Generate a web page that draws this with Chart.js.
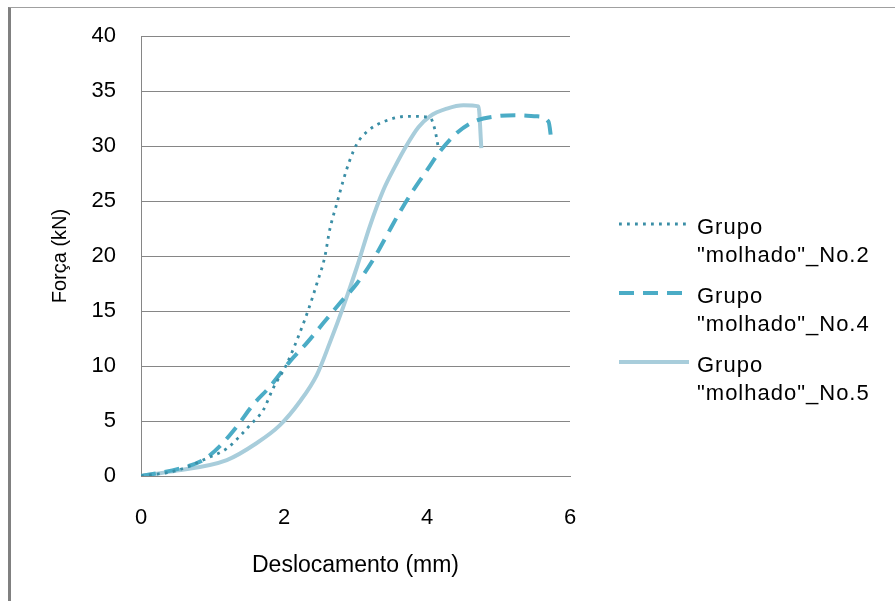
<!DOCTYPE html>
<html>
<head>
    <title>Força x Deslocamento</title>
    <script src="https://cdn.jsdelivr.net/npm/chart.js"></script>
    <style>
        body {
            margin: 0;
            background: #fff;
            font-family: "Liberation Sans", Arial, sans-serif;
            overflow: hidden;
        }

        #frame {
            position: absolute;
            left: 8px;
            top: 7px;
            width: 900px;
            height: 600px;
            border-left: 3px solid #808080;
            border-top: 1px solid #a0a0a0;
        }

        #wrap {
            position: absolute;
            left: 0;
            top: 0;
            width: 895px;
            height: 601px;
        }

        .leg {
            position: absolute;
            left: 619px;
            font-size: 22px;
            line-height: 28px;
            letter-spacing: 1px;
            color: #000;
        }

        .leg svg {
            position: absolute;
            left: 0;
            top: 5px;
        }

        .leg span {
            display: block;
            margin-left: 78px;
            white-space: nowrap;
        }
    </style>
</head>
<body>
    <div id="frame"></div>
    <div id="wrap">
        <canvas id="forceChart"></canvas>
    </div>
    <div id="legend"></div>

    <script>
        // Grupo "molhado" No.2
        const no2X = [0, 0.5, 0.92, 1.2, 1.38, 1.52, 1.71, 1.85, 2.04, 2.22, 2.34, 2.46, 2.57, 2.64, 2.74, 2.83, 2.92, 3.02, 3.16, 3.39, 3.72, 4.04, 4.11, 4.16];
        const no2Y = [0, 0.5, 1.6, 2.5, 3.6, 4.6, 6.0, 8.0, 10.2, 13.0, 15.1, 17.5, 19.9, 22.4, 24.8, 26.9, 28.7, 30.2, 31.3, 32.2, 32.7, 32.6, 31.5, 29.8];

        // Grupo "molhado" No.4
        const no4X = [0, 0.55, 0.87, 1.1, 1.34, 1.57, 1.8, 2.08, 2.32, 2.55, 2.78, 3.02, 3.25, 3.44, 3.62, 3.81, 4.0, 4.18, 4.42, 4.65, 4.97, 5.25, 5.53, 5.7, 5.74];
        const no4Y = [0, 0.7, 1.45, 2.7, 4.5, 6.5, 8.1, 10.4, 12.1, 13.9, 15.7, 17.5, 19.7, 21.9, 24.0, 26.0, 27.8, 29.5, 31.2, 32.2, 32.7, 32.8, 32.7, 32.2, 30.5];

        // Grupo "molhado" No.5
        const no5X = [0, 0.41, 1.2, 1.62, 1.94, 2.22, 2.46, 2.64, 2.83, 3.02, 3.2, 3.39, 3.55, 3.71, 3.88, 4.04, 4.28, 4.51, 4.72, 4.76];
        const no5Y = [0, 0.4, 1.45, 3.0, 4.6, 6.75, 9.2, 12.1, 15.4, 19.0, 22.7, 26.0, 28.1, 30.0, 31.7, 32.7, 33.4, 33.7, 33.6, 29.8];

        const seriesNames = ['Grupo\n"molhado"_No.2', 'Grupo\n"molhado"_No.4', 'Grupo\n"molhado"_No.5'];
        const xTicks = [0, 2, 4, 6];
        const yTicks = [0, 5, 10, 15, 20, 25, 30, 35, 40];

        const styles = [
            { color: '#3a8ea6', width: 2.8, dash: [2.8, 5.2] },
            { color: '#4bacc6', width: 4, dash: [15, 9] },
            { color: '#a8cddb', width: 4, dash: [] }
        ];

        function toPoints(xs, ys) {
            return xs.map((x, i) => ({ x: x, y: ys[i] }));
        }

        const allData = [toPoints(no2X, no2Y), toPoints(no4X, no4Y), toPoints(no5X, no5Y)];
        const font = 'Liberation Sans';

        const ctx = document.getElementById('forceChart').getContext('2d');
        const chart = new Chart(ctx, {
            type: 'line',
            data: {
                datasets: allData.map((pts, i) => ({
                    label: seriesNames[i].replace('\n', ' '),
                    data: pts,
                    borderColor: styles[i].color,
                    borderWidth: styles[i].width,
                    borderDash: styles[i].dash,
                    pointRadius: 0,
                    fill: false,
                    cubicInterpolationMode: 'monotone'
                }))
            },
            options: {
                responsive: true,
                maintainAspectRatio: false,
                animation: false,
                layout: { padding: { left: 0, top: 36, right: 325, bottom: 0 } },
                plugins: {
                    legend: { display: false },
                    tooltip: { enabled: false }
                },
                scales: {
                    x: {
                        type: 'linear',
                        min: 0,
                        max: 6,
                        afterBuildTicks: s => { s.ticks = xTicks.map(v => ({ value: v })); },
                        afterFit: s => { s.height = 125; s.paddingLeft = 0; s.paddingRight = 0; },
                        grid: { display: false, drawTicks: false },
                        border: { display: true, color: '#868686', width: 1 },
                        ticks: { color: '#000', padding: 29, font: { family: font, size: 22 } },
                        title: {
                            display: true,
                            text: 'Deslocamento (mm)',
                            color: '#000',
                            font: { family: font, size: 23 },
                            padding: { top: 0, bottom: 22 }
                        }
                    },
                    y: {
                        min: 0,
                        max: 40,
                        afterBuildTicks: s => { s.ticks = yTicks.map(v => ({ value: v })); },
                        afterFit: s => { s.width = 141; s.paddingTop = 0; s.paddingBottom = 0; },
                        grid: { color: '#868686', lineWidth: 1, drawTicks: false },
                        border: { display: true, color: '#868686', width: 1 },
                        ticks: { color: '#000', padding: 25, font: { family: font, size: 22 } },
                        title: {
                            display: true,
                            text: 'Força (kN)',
                            color: '#000',
                            font: { family: font, size: 20 },
                            padding: { top: 48, bottom: 0 }
                        }
                    }
                }
            }
        });

        // legend drawn as html so the names can wrap on two lines
        const legend = document.getElementById('legend');
        const legendTops = [213, 282, 351];
        seriesNames.forEach((name, i) => {
            const item = document.createElement('div');
            item.className = 'leg';
            item.style.top = legendTops[i] + 'px';
            const s = styles[i];
            item.innerHTML = `
                <svg width="72" height="12"><line x1="0" y1="6" x2="70" y2="6"
                    stroke="${s.color}" stroke-width="${s.width}"
                    stroke-dasharray="${s.dash.length ? s.dash.join(' ') : 'none'}" /></svg>
                <span>${name.split('\n')[0]}</span>
                <span>${name.split('\n')[1]}</span>
            `;
            legend.appendChild(item);
        });
    </script>
</body>
</html>
